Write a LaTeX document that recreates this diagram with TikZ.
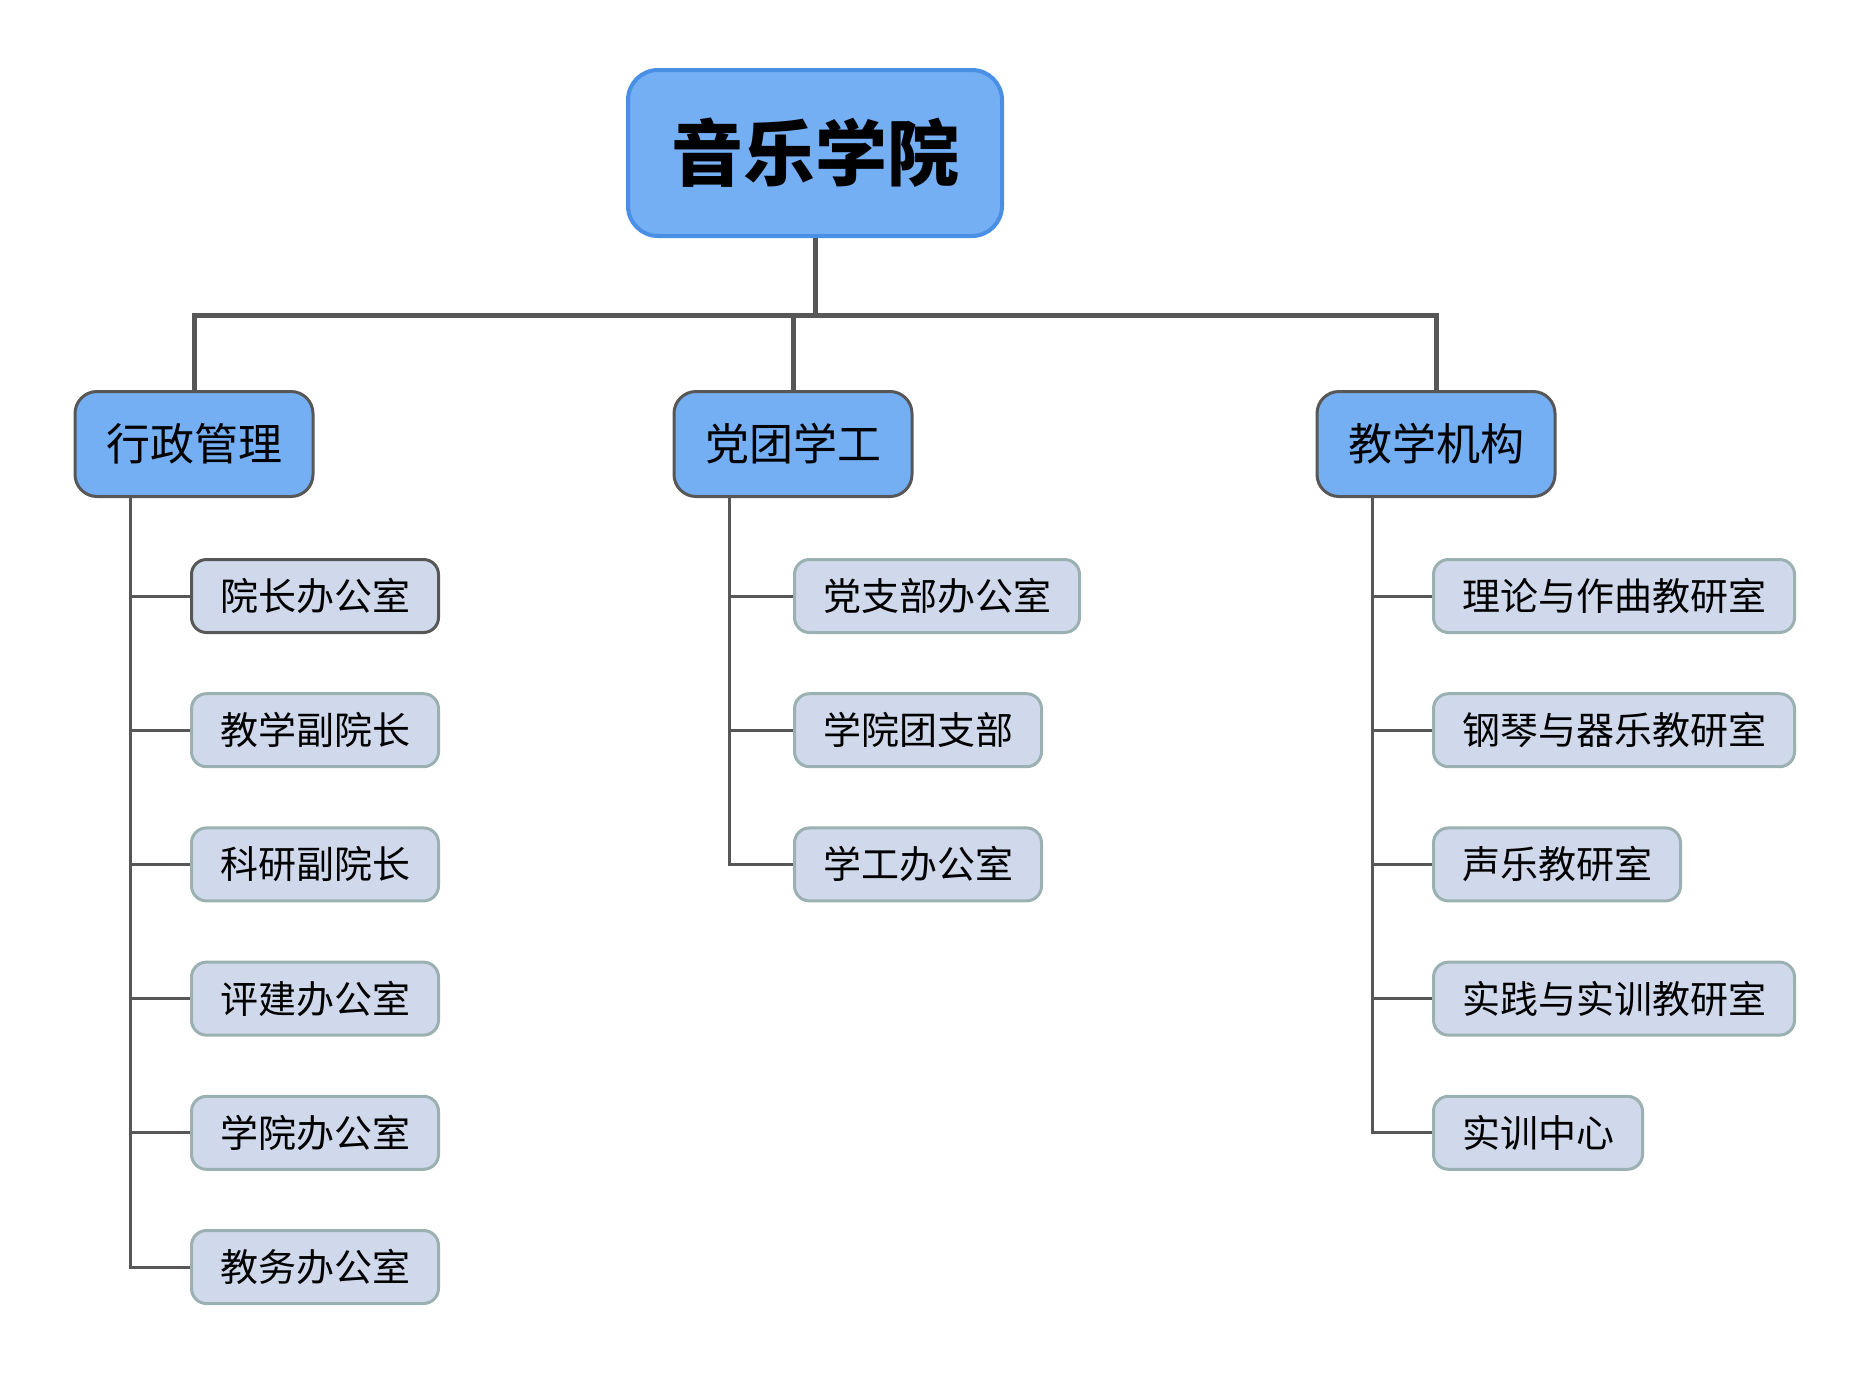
\documentclass[tikz,border=0pt]{standalone}
\usepackage{fontspec}
\newfontfamily\cjk{Noto Sans CJK SC}
\usetikzlibrary{positioning}
\definecolor{rootblue}{HTML}{74AEF3}
\definecolor{rootedge}{HTML}{4A8FE6}
\definecolor{wire}{HTML}{575757}
\definecolor{leaffill}{HTML}{D0D9EC}
\definecolor{leafedge}{HTML}{9BB0B0}
\tikzset{
  dean/.style={
    draw = rootedge,
    fill = rootblue,
    line width = 4pt,
    rounded corners = 30pt,
    minimum height = 166pt,
    inner xsep = 43pt,
    inner ysep = 0pt,
    font = \cjk\bfseries\fontsize{72}{72}\selectfont
  },
  branch/.style={
    draw = wire,
    fill = rootblue,
    line width = 3pt,
    rounded corners = 22pt,
    minimum height = 105pt,
    inner xsep = 31pt,
    inner ysep = 0pt,
    font = \cjk\fontsize{44}{44}\selectfont
  },
  office/.style={
    draw = leafedge,
    fill = leaffill,
    line width = 3pt,
    rounded corners = 15pt,
    minimum height = 73pt,
    inner xsep = 28.5pt,
    inner ysep = 0pt,
    anchor = west,
    font = \cjk\fontsize{38}{38}\selectfont
  },
  trunk/.style={
    draw = wire,
    line width = 5pt
  },
  twig/.style={
    draw = wire,
    line width = 3pt
  }
}
\begin{document}
\begin{tikzpicture}[x=1pt, y=-1pt]
    \def\dy{134.2}
    \def\ytop{596}
    \def\dx{57}
    \useasboundingbox (0,0) rectangle (1870,1376);
        \node[dean] (music) at (815,153) {音乐学院};
        \node[branch] (admin) at (194,444) {行政管理};
        \node[branch] (party) at (793,444) {党团学工};
        \node[branch] (teach) at (1436,444) {教学机构};
        % leaves
        \node[office, draw=wire] (a1) at (190,\ytop) {院长办公室};
        \foreach \txt [count=\i from 2] in {教学副院长, 科研副院长, 评建办公室, 学院办公室, 教务办公室}{
        \node[office] (a\i) at (190,{\ytop+(\i-1)*\dy}) {\txt};
        }
        \foreach \txt [count=\i] in {党支部办公室, 学院团支部, 学工办公室}{
        \node[office] (p\i) at (793,{\ytop+(\i-1)*\dy}) {\txt};
        }
        \foreach \txt [count=\i] in {理论与作曲教研室, 钢琴与器乐教研室, 声乐教研室, 实践与实训教研室, 实训中心}{
        \node[office] (t\i) at (1432,{\ytop+(\i-1)*\dy}) {\txt};
        }
        % connectors
        \coordinate (bus) at (0,315);
        \draw[trunk] (music.south) -- (music.south |- bus);
        \draw[trunk] (admin.north) |- (teach.north |- bus) -- (teach.north);
        \draw[trunk] (party.north) -- (party.north |- bus);
        \foreach \i in {1,...,6}{
        \draw[twig] ([xshift=\dx pt]admin.south west) |- (a\i.west);
        }
        \foreach \i in {1,...,3}{
        \draw[twig] ([xshift=\dx pt]party.south west) |- (p\i.west);
        }
        \foreach \i in {1,...,5}{
        \draw[twig] ([xshift=\dx pt]teach.south west) |- (t\i.west);
        }
    \end{tikzpicture}
\end{document}
